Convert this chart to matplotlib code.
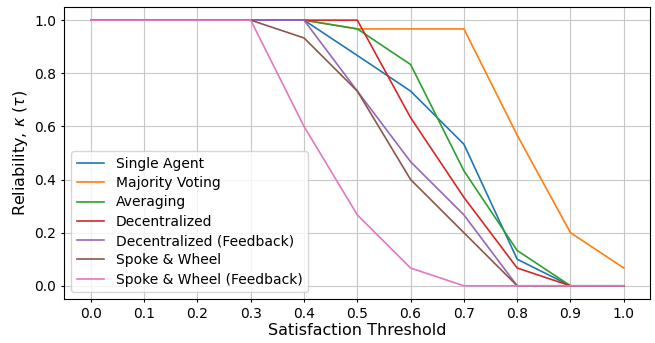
import matplotlib
matplotlib.use("Agg")
import matplotlib.pyplot as plt
import numpy as np

thresholds = [0.0, 0.1, 0.2, 0.3, 0.4, 0.5, 0.6, 0.7, 0.8, 0.9, 1.0]
single_agent = [1, 1, 1, 1, 1, 0.867, 0.733, 0.533, 0.1, 0, 0]
majority_voting = [1, 1, 1, 1, 1, 0.967, 0.967, 0.967, 0.567, 0.2, 0.067]
averaging = [1, 1, 1, 1, 1, 0.967, 0.833, 0.433, 0.133, 0, 0]
decentralized = [1, 1, 1, 1, 1, 1, 0.633, 0.333, 0.067, 0, 0]
decentralized_fb = [1, 1, 1, 1, 1, 0.733, 0.467, 0.267, 0, 0, 0]
spoke_wheel = [1, 1, 1, 1, 0.933, 0.733, 0.4, 0.2, 0, 0, 0]
spoke_wheel_fb = [1, 1, 1, 1, 0.6, 0.267, 0.067, 0, 0, 0, 0]

series = [
    ("Single Agent", single_agent),
    ("Majority Voting", majority_voting),
    ("Averaging", averaging),
    ("Decentralized", decentralized),
    ("Decentralized (Feedback)", decentralized_fb),
    ("Spoke & Wheel", spoke_wheel),
    ("Spoke & Wheel (Feedback)", spoke_wheel_fb),
]

fig, ax = plt.subplots(figsize=(6.55, 3.43), dpi=100)
for name, vals in series:
    ax.plot(thresholds, vals, label=name, linewidth=1.2)

ax.set_xticks(thresholds)
ax.set_yticks([0.0, 0.2, 0.4, 0.6, 0.8, 1.0])
ax.tick_params(labelsize=10, length=2.4, pad=3.5)
ax.set_xlabel("Satisfaction Threshold", fontsize=11.5, labelpad=1.5)
ax.set_ylabel(r"Reliability, $\kappa$ ($\tau$)", fontsize=11.5, labelpad=3)
ax.grid(True, color="#c8c8c8", linewidth=0.8)
ax.legend(loc="lower left", fontsize=10, labelspacing=0.38)
fig.subplots_adjust(left=0.098, right=0.993, top=0.98, bottom=0.128)
fig.savefig("out.png", dpi=100)
